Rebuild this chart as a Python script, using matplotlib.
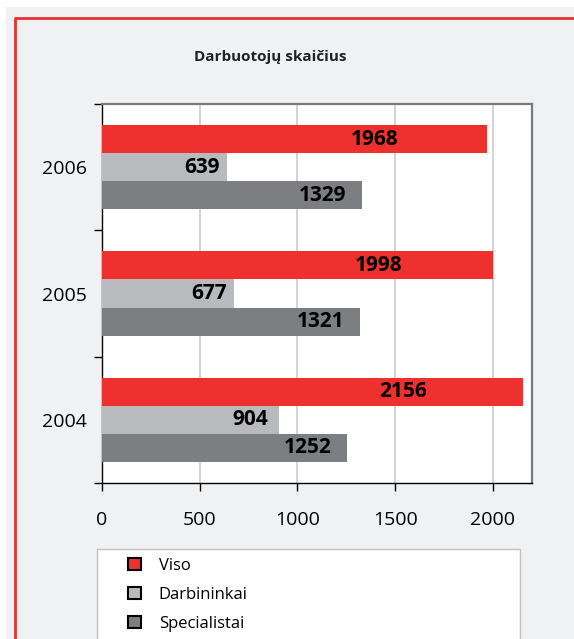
import numpy as np
import matplotlib.pyplot as plt
from matplotlib.patches import Rectangle, Patch
from matplotlib.lines import Line2D

plt.rcParams['font.family'] = ['Open Sans', 'DejaVu Sans']

years = ['2004', '2005', '2006']
viso = [2156, 1998, 1968]
darbininkai = [904, 677, 639]
specialistai = [1252, 1321, 1329]
series_names = ['Viso', 'Darbininkai', 'Specialistai']

colors = ['#ee312e', '#b9babd', '#7d7e82']
label_frac = [0.77, 0.94, 0.94]

W, H = 574, 639
fig = plt.figure(figsize=(W / 100, H / 100), dpi=100, facecolor='white')

# фон и красная рамка
fig.patches.append(Rectangle((6 / W, 0), 1, 1 - 7 / H, transform=fig.transFigure,
                             facecolor='#f0f1f3', edgecolor='none', zorder=-10))
fig.lines.append(Line2D([15 / W, 15 / W, 1], [0, 1 - 18 / H, 1 - 18 / H],
                        transform=fig.transFigure, color='#e8312f', lw=2))

ax = fig.add_axes([102 / W, 1 - 483 / H, 430 / W, 379 / H])
ax.set_facecolor('white')

y = np.arange(len(years))
h = 0.222
for k, vals in enumerate([viso, darbininkai, specialistai]):
    off = h * (1 - k)
    ax.barh(y + off, vals, height=h, color=colors[k], zorder=3)
    for yi, v in zip(y, vals):
        ax.text(v * label_frac[k], yi + off, str(v), ha='right', va='center',
                fontsize=15, fontweight='bold', color='black', zorder=4)

ax.set_xlim(0, 2200)
ax.set_ylim(-0.5, 2.5)
ax.set_xticks([0, 500, 1000, 1500, 2000])
ax.tick_params(axis='x', direction='out', length=6, width=1, labelsize=14, pad=14)
ax.set_yticks(y)
ax.set_yticklabels(years)
ax.tick_params(axis='y', which='major', length=0, labelsize=14, pad=11)
ax.set_yticks([-0.5, 0.5, 1.5, 2.5], minor=True)
ax.tick_params(axis='y', which='minor', direction='out', length=6, width=1)
ax.xaxis.grid(True, color='#d0d0d0', lw=1.3, zorder=0)
ax.set_axisbelow(True)

for s in ['top', 'right']:
    ax.spines[s].set_color('#7a7a7a')
    ax.spines[s].set_linewidth(1.6)
for s in ['left', 'bottom']:
    ax.spines[s].set_color('black')
    ax.spines[s].set_linewidth(1)

fig.text(270 / W, 1 - 57 / H, 'Darbuotojų skaičius', ha='center', va='center',
         fontsize=11, fontweight='bold', color='#222222')

# легенда
fig.patches.append(Rectangle((97 / W, -0.05), 423 / W, 0.05 + 1 - 549 / H,
                             transform=fig.transFigure, facecolor='white',
                             edgecolor='#c0c0c0', lw=1))
handles = [Patch(facecolor=c, edgecolor='black', lw=1.5) for c in colors]
fig.legend(handles, series_names, loc='upper left',
           bbox_to_anchor=(128 / W, 1 - 558 / H), frameon=False, fontsize=12,
           handlelength=0.75, handleheight=0.75, handletextpad=1.1, labelspacing=0.78,
           borderaxespad=0, borderpad=0)

fig.savefig('out.png', dpi=100, facecolor=fig.get_facecolor())
